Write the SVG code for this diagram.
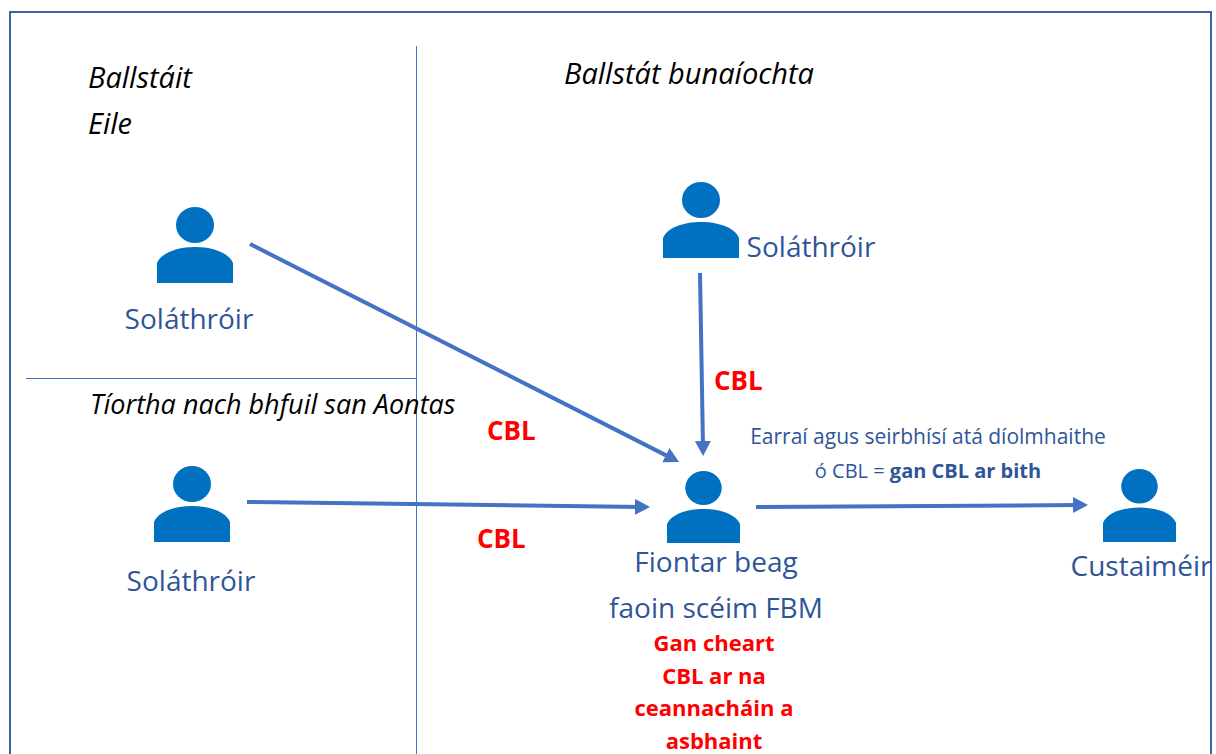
<svg xmlns="http://www.w3.org/2000/svg" width="1216" height="754" viewBox="0 0 1216 754">
<defs>
<style>
text{font-family:"Open Sans","Noto Sans",sans-serif}
.i{font-style:italic;fill:#000}
.b{font-size:28px;fill:#2f5597}
.r{font-weight:700;fill:#ff0000;font-size:22px}
.c{font-weight:700;fill:#ff0000;font-size:26px}
.a{stroke:#4472c4;stroke-width:4;fill:none;marker-end:url(#m)}
.d{stroke:#4472c4;stroke-width:1;fill:none}
.p{fill:#0070c0}
</style>
<marker id="m" markerUnits="userSpaceOnUse" markerWidth="18" markerHeight="18" refX="7" refY="8" orient="auto"><path d="M0 0L15 8L0 16z" fill="#4472c4"/></marker>
<symbol id="person" viewBox="0 0 76 76" preserveAspectRatio="none" overflow="visible"><ellipse class="p" cx="38" cy="18" rx="19" ry="18"/><path class="p" d="M0 76V56C4 46 20 40 38 40S72 46 76 56V76z"/></symbol>
</defs>
<rect width="1216" height="754" fill="#fff"/>
<path d="M10 754V12H1211V754" fill="none" stroke="#3b64a8" stroke-width="2"/>
<g id="connectors">
<path class="d" d="M416.5 46V754M26 378.500H416"/>
<path class="a" d="M250 244L672 458.400"/>
<path class="a" d="M700 273L703 448"/>
<path class="a" d="M247 502L642 507"/>
<path class="a" d="M756 507L1080 505"/>
</g>
<g id="n1"><use href="#person" x="157" y="207" width="76" height="76"/><text class="b" x="189" y="329" text-anchor="middle">Soláthróir</text></g>
<g id="n2"><use href="#person" x="663" y="182" width="76" height="76"/><text class="b" x="811" y="257" text-anchor="middle">Soláthróir</text></g>
<g id="n3"><use href="#person" x="154" y="466" width="76" height="76"/><text class="b" x="191" y="591" text-anchor="middle">Soláthróir</text></g>
<g id="n4"><use href="#person" x="667" y="471" width="73" height="72"/><text class="b" x="716" y="572" text-anchor="middle">Fiontar beag</text><text class="b" x="716" y="618" text-anchor="middle">faoin scéim FBM</text>
<text class="r" x="714" y="651" text-anchor="middle">Gan cheart</text><text class="r" x="714" y="684" text-anchor="middle">CBL ar na</text><text class="r" x="714" y="716" text-anchor="middle">ceannacháin a</text><text class="r" x="714" y="749" text-anchor="middle">asbhaint</text></g>
<g id="n5"><use href="#person" x="1103" y="469" width="73" height="73"/><text class="b" x="1141" y="576" text-anchor="middle">Custaiméir</text></g>
<g id="labels">
<text class="i" x="88" y="88" font-size="29">Ballstáit</text><text class="i" x="88" y="134" font-size="29">Eile</text>
<text class="i" x="564" y="84" font-size="29">Ballstát bunaíochta</text>
<text class="i" x="90" y="414" font-size="27">Tíortha nach bhfuil san Aontas</text>
<text class="c" x="487" y="440">CBL</text><text class="c" x="714" y="390">CBL</text><text class="c" x="477" y="548">CBL</text>
<text x="928" y="444" text-anchor="middle" font-size="21" fill="#2f5597">Earraí agus seirbhísí atá díolmhaithe</text>
<text x="928" y="478" text-anchor="middle" font-size="20" fill="#2f5597">ó CBL = <tspan font-weight="700">gan CBL ar bith</tspan></text>
</g>
</svg>
